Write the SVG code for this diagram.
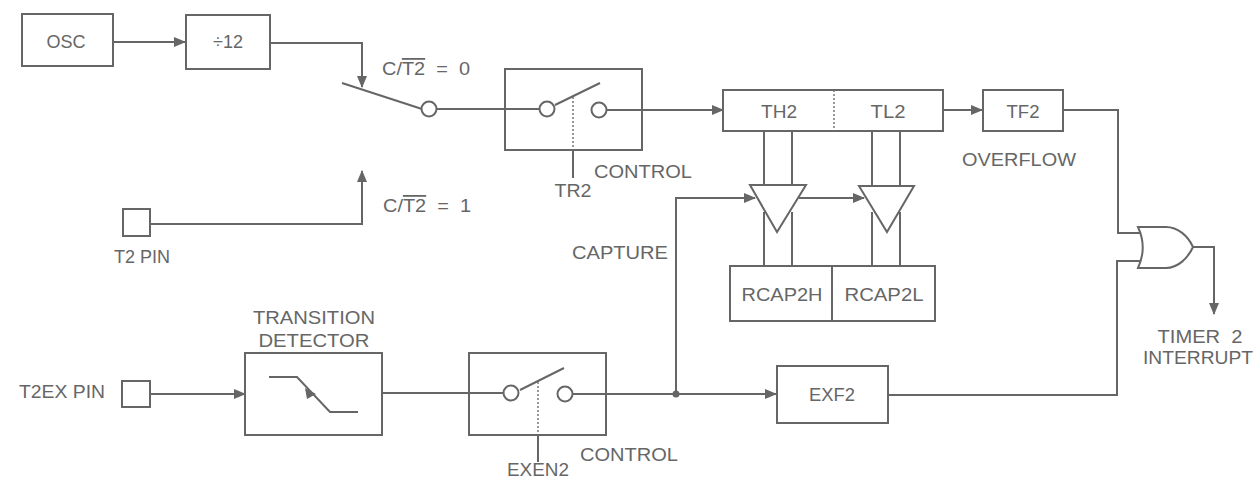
<svg xmlns="http://www.w3.org/2000/svg" width="1257" height="482" viewBox="0 0 1257 482">
<style>
.b{fill:#fff;stroke:#666;stroke-width:2}
.l{fill:none;stroke:#666;stroke-width:2}
.d{fill:none;stroke:#777;stroke-width:1.5;stroke-dasharray:2 2}
.c{fill:#fff;stroke:#666;stroke-width:2}
text{font-family:"Liberation Sans",Arial,sans-serif;font-size:18px;fill:#666;text-anchor:middle}
.o{text-decoration:overline}
</style>
<defs>
<marker id="a" markerWidth="12" markerHeight="10" refX="11" refY="5" orient="auto" markerUnits="userSpaceOnUse"><path d="M0 0L12 5L0 10Z" fill="#666"/></marker>
</defs>
<rect width="1257" height="482" fill="#fff"/>
<g id="connectors">
<path class="l" marker-end="url(#a)" d="M113 42H185"/>
<path class="l" marker-end="url(#a)" d="M270 43H362V87"/>
<path class="l" d="M342 83L422 109"/>
<path class="l" d="M436 109H541"/>
<path class="l" marker-end="url(#a)" d="M605 110H723"/>
<path class="l" marker-end="url(#a)" d="M150 224H362V171"/>
<path class="l" marker-end="url(#a)" d="M943 110H982"/>
<path class="l" d="M1063 110H1118V233H1140"/>
<path class="l" d="M1140 261H1117V395H888"/>
<path class="l" marker-end="url(#a)" d="M1193 247H1214V314"/>
<path class="l" d="M764 131V185M792 131V185M872 131V186M900 131V186"/>
<path class="l" d="M764 212V266M792 212V266M872 212V266M900 212V266"/>
<path class="l" marker-end="url(#a)" d="M150 394H245"/>
<path class="l" d="M382 393H505"/>
<path class="l" marker-end="url(#a)" d="M572 394H776"/>
<path class="l" marker-end="url(#a)" d="M676 394V198H755"/>
<path class="l" marker-end="url(#a)" d="M799 198H864"/>
<circle cx="676" cy="394" r="3.5" fill="#666"/>
</g>
<g id="osc"><rect class="b" x="22" y="14" width="91" height="52"/><text x="66" y="48" textLength="39" lengthAdjust="spacingAndGlyphs">OSC</text></g>
<g id="div12"><rect class="b" x="186" y="15" width="84" height="54"/><text x="228" y="48">÷12</text></g>
<g id="switch-main"><circle class="c" cx="429" cy="109" r="7.5"/></g>
<g id="tr2-switch">
<rect class="l" x="505" y="69" width="137" height="81"/>
<circle class="c" cx="547" cy="109" r="7.5"/><circle class="c" cx="599" cy="110" r="7.5"/>
<path class="l" d="M555 105L600 83"/><path class="d" d="M573 97V150"/><path class="l" d="M573 150V178"/>
</g>
<g id="th2-tl2">
<rect class="b" x="723" y="90" width="220" height="41"/><path class="d" d="M834 90V131"/>
<text x="779" y="118" textLength="36" lengthAdjust="spacingAndGlyphs">TH2</text><text x="888" y="118" textLength="35" lengthAdjust="spacingAndGlyphs">TL2</text>
</g>
<g id="tf2"><rect class="b" x="983" y="90" width="80" height="41"/><text x="1023" y="118" textLength="33" lengthAdjust="spacingAndGlyphs">TF2</text></g>
<g id="buffer-h"><path class="l" d="M750 185H806L777 232Z"/></g>
<g id="buffer-l"><path class="l" d="M859 186H914L887 232Z"/></g>
<g id="rcap">
<rect class="b" x="730" y="266" width="205" height="55"/><path class="l" d="M832 266V321"/>
<text x="782" y="301" textLength="81" lengthAdjust="spacingAndGlyphs">RCAP2H</text><text x="884" y="301" textLength="79" lengthAdjust="spacingAndGlyphs">RCAP2L</text>
</g>
<g id="or-gate"><path class="b" d="M1138 227H1166C1178 227 1188 236 1193 247C1188 258 1178 268 1166 268H1138C1144 255 1144 240 1138 227Z"/></g>
<g id="t2-pin"><rect class="b" x="123" y="209" width="27" height="27"/><text x="142" y="263" textLength="56" lengthAdjust="spacingAndGlyphs">T2 PIN</text></g>
<g id="t2ex-pin"><rect class="b" x="122" y="381" width="28" height="26"/><text x="62" y="398" textLength="86" lengthAdjust="spacingAndGlyphs">T2EX PIN</text></g>
<g id="transition-detector">
<rect class="b" x="245" y="353" width="137" height="82"/>
<path class="l" d="M269 377H297L330 412H358"/><path d="M305 388L316 394L307 399Z" fill="#666"/>
<text x="314" y="324" textLength="122" lengthAdjust="spacingAndGlyphs">TRANSITION</text><text x="314" y="347" textLength="111" lengthAdjust="spacingAndGlyphs">DETECTOR</text>
</g>
<g id="exen2-switch">
<rect class="l" x="469" y="353" width="137" height="82"/>
<circle class="c" cx="511" cy="393" r="7.5"/><circle class="c" cx="565" cy="394" r="7.5"/>
<path class="l" d="M520 390L564 368"/><path class="d" d="M538 382V435"/><path class="l" d="M538 435V462"/>
</g>
<g id="exf2"><rect class="b" x="777" y="366" width="111" height="57"/><text x="832" y="401" textLength="46" lengthAdjust="spacingAndGlyphs">EXF2</text></g>
<g id="labels">
<text x="426" y="75" textLength="88" lengthAdjust="spacingAndGlyphs" xml:space="preserve">C/<tspan class="o">T2</tspan>  =  0</text>
<text x="427" y="212" textLength="88" lengthAdjust="spacingAndGlyphs" xml:space="preserve">C/<tspan class="o">T2</tspan>  =  1</text>
<text x="643" y="178" textLength="98" lengthAdjust="spacingAndGlyphs">CONTROL</text>
<text x="573" y="197" textLength="37" lengthAdjust="spacingAndGlyphs">TR2</text>
<text x="629" y="461" textLength="98" lengthAdjust="spacingAndGlyphs">CONTROL</text>
<text x="538" y="476" textLength="62" lengthAdjust="spacingAndGlyphs">EXEN2</text>
<text x="620" y="259" textLength="96" lengthAdjust="spacingAndGlyphs">CAPTURE</text>
<text x="1019" y="166" textLength="114" lengthAdjust="spacingAndGlyphs">OVERFLOW</text>
<text x="1200" y="343" textLength="85" lengthAdjust="spacingAndGlyphs" xml:space="preserve">TIMER  2</text>
<text x="1198" y="364" textLength="110" lengthAdjust="spacingAndGlyphs">INTERRUPT</text>
</g>
</svg>
